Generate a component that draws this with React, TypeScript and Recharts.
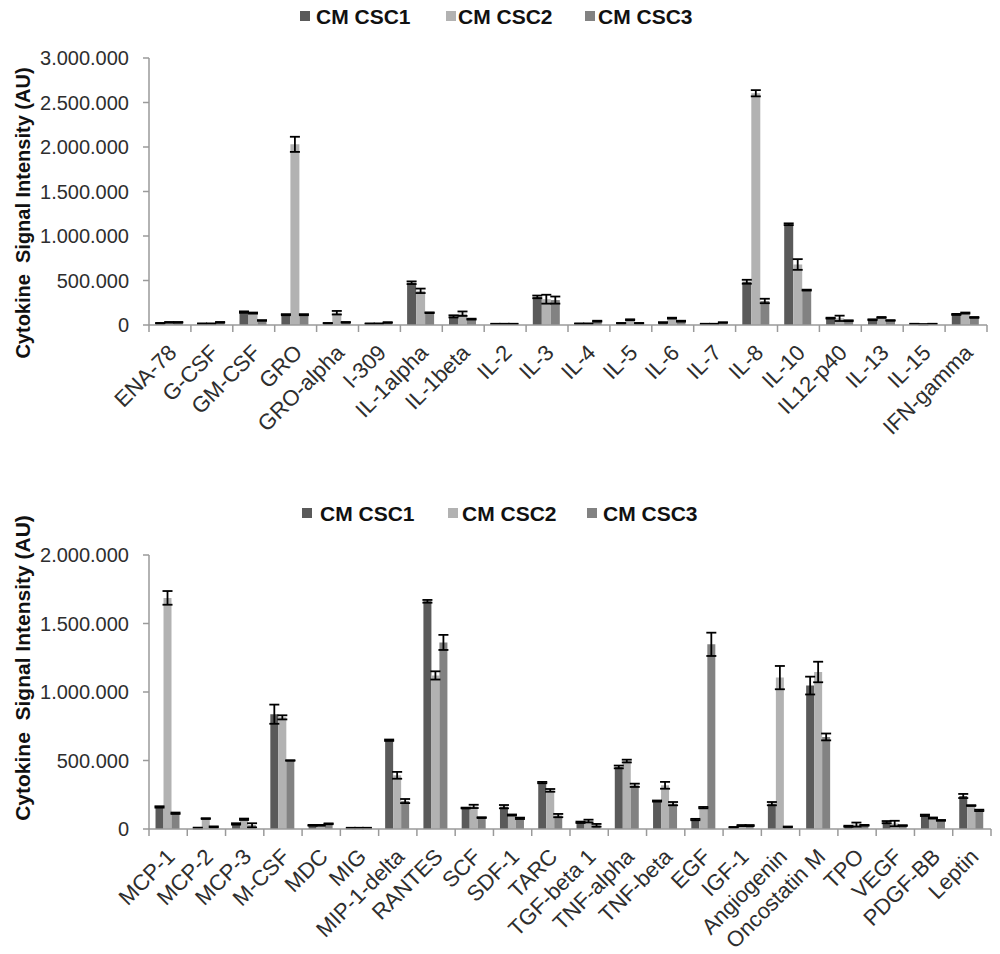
import React from 'react';
import { BarChart, Bar, XAxis, YAxis, ErrorBar, Legend } from 'recharts';

// ---------- Data: top panel ----------
const topCategories = ['ENA-78', 'G-CSF', 'GM-CSF', 'GRO', 'GRO-alpha', 'I-309', 'IL-1alpha', 'IL-1beta', 'IL-2', 'IL-3', 'IL-4', 'IL-5', 'IL-6', 'IL-7', 'IL-8', 'IL-10', 'IL12-p40', 'IL-13', 'IL-15', 'IFN-gamma'];
const topCSC1 = [20000, 15000, 145000, 116000, 20000, 15000, 475000, 97000, 12000, 316000, 15000, 20000, 28000, 12000, 486000, 1132000, 77000, 59000, 12000, 119000];
const topCSC2 = [30000, 15000, 134000, 2030000, 138000, 15000, 384000, 127000, 12000, 290000, 15000, 59000, 77000, 12000, 2604000, 680000, 75000, 85000, 8000, 134000];
const topCSC3 = [30000, 30000, 51000, 116000, 30000, 28000, 138000, 66000, 12000, 280000, 43000, 20000, 43000, 28000, 270000, 392000, 48000, 51000, 12000, 85000];
const topErr1 = [3000, 3000, 8000, 6000, 3000, 3000, 15000, 12000, 2000, 15000, 3000, 3000, 4000, 2000, 22000, 10000, 5000, 5000, 2000, 6000];
const topErr2 = [4000, 3000, 6000, 85000, 20000, 3000, 25000, 25000, 2000, 50000, 3000, 5000, 5000, 2000, 35000, 60000, 30000, 5000, 2000, 6000];
const topErr3 = [4000, 4000, 4000, 6000, 4000, 4000, 4000, 5000, 2000, 40000, 5000, 3000, 5000, 3000, 25000, 5000, 5000, 4000, 2000, 5000];
const topTicks = [0, 500000, 1000000, 1500000, 2000000, 2500000, 3000000];

// ---------- Data: bottom panel ----------
const bottomCategories = ['MCP-1', 'MCP-2', 'MCP-3', 'M-CSF', 'MDC', 'MIG', 'MIP-1-delta', 'RANTES', 'SCF', 'SDF-1', 'TARC', 'TGF-beta 1', 'TNF-alpha', 'TNF-beta', 'EGF', 'IGF-1', 'Angiogenin', 'Oncostatin M', 'TPO', 'VEGF', 'PDGF-BB', 'Leptin'];
const bottomCSC1 = [161000, 7000, 37000, 838000, 27000, 7000, 648000, 1662000, 153000, 163000, 339000, 49000, 453000, 204000, 69000, 12000, 185000, 1047000, 20000, 50000, 100000, 241000];
const bottomCSC2 = [1687000, 76000, 71000, 815000, 27000, 7000, 392000, 1121000, 165000, 102000, 282000, 58000, 496000, 319000, 156000, 25000, 1105000, 1146000, 32000, 40000, 80000, 171000];
const bottomCSC3 = [115000, 15000, 27000, 500000, 38000, 7000, 204000, 1362000, 83000, 78000, 98000, 27000, 319000, 185000, 1348000, 25000, 15000, 672000, 27000, 25000, 63000, 136000];
const bottomErr1 = [5000, 3000, 5000, 70000, 3000, 2000, 5000, 10000, 3000, 12000, 5000, 5000, 10000, 4000, 5000, 3000, 12000, 65000, 4000, 8000, 5000, 15000];
const bottomErr2 = [50000, 3000, 5000, 15000, 3000, 2000, 25000, 30000, 12000, 4000, 10000, 10000, 10000, 25000, 5000, 4000, 85000, 75000, 15000, 20000, 4000, 3000];
const bottomErr3 = [5000, 4000, 15000, 2000, 3000, 2000, 15000, 55000, 3000, 5000, 12000, 10000, 12000, 12000, 85000, 4000, 3000, 25000, 3000, 3000, 3000, 5000];
const bottomTicks = [0, 500000, 1000000, 1500000, 2000000];

const seriesNames = ['CM CSC1', 'CM CSC2', 'CM CSC3'];
const seriesColors = ['#5a5a5a', '#b2b2b2', '#828282'];

const FONT = '"Liberation Sans", Arial, sans-serif';
const AXIS = '#9a9a9a';
const TEXT = '#2e2e2e';

function buildRows(cats: string[], a: number[], b: number[], c: number[], ea: number[], eb: number[], ec: number[]) {
  return cats.map((name, i) => ({ name, s1: a[i], s2: b[i], s3: c[i], e1: ea[i], e2: eb[i], e3: ec[i] }));
}

const topData = buildRows(topCategories, topCSC1, topCSC2, topCSC3, topErr1, topErr2, topErr3);
const bottomData = buildRows(bottomCategories, bottomCSC1, bottomCSC2, bottomCSC3, bottomErr1, bottomErr2, bottomErr3);

const fmt = (v: number) => String(v).replace(/\B(?=(\d{3})+(?!\d))/g, '.');

function XTick(props: any) {
  const { x, y, payload, index, visibleTicksCount, step } = props;
  const half = payload && typeof payload.offset === 'number' && payload.offset > 0 ? payload.offset : step / 2;
  const tx = x + 8;
  const ty = y + 29;
  return (
    <g>
      <line x1={x - half} x2={x - half} y1={y} y2={y + 7} stroke={AXIS} strokeWidth={1.5} />
      {index === visibleTicksCount - 1 && (
        <line x1={x + half} x2={x + half} y1={y} y2={y + 7} stroke={AXIS} strokeWidth={1.5} />
      )}
      <text x={tx} y={ty} transform={`rotate(-45 ${tx} ${ty})`} textAnchor="end" fontFamily={FONT} fill={TEXT} style={{ fontSize: '22px' }}>
        {payload.value}
      </text>
    </g>
  );
}

function YTick(props: any) {
  const { x, y, payload } = props;
  return (
    <text x={x} y={y} dy={7} textAnchor="end" fontFamily={FONT} fill={TEXT} style={{ fontSize: '20px' }}>
      {fmt(payload.value)}
    </text>
  );
}

function YLabel(props: any) {
  const { centerY, fsize } = props;
  return (
    <text x={30} y={centerY} transform={`rotate(-90 30 ${centerY})`} textAnchor="middle" fontWeight="bold" fontFamily={FONT} fill="#111" style={{ whiteSpace: 'pre', fontSize: `${fsize}px` }}>
      Cytokine  Signal Intensity (AU)
    </text>
  );
}

function makeLegend(xs: number[][]) {
  return (props: any) => {
    const payload = props.payload || [];
    return (
      <svg width={1000} height={30} style={{ display: 'block' }}>
        {seriesNames.map((n, i) => {
          const p = payload.find((q: any) => q.value === n);
          return (
            <g key={n}>
              <rect x={xs[i][0]} y={11} width={10} height={10} fill={p ? p.color : seriesColors[i]} />
              <text x={xs[i][1]} y={24} fontWeight="bold" fontFamily={FONT} fill="#111" style={{ fontSize: '21px' }}>{n}</text>
            </g>
          );
        })}
      </svg>
    );
  };
}

function Panel(props: any) {
  const { data, ticks, max, height, xAxisHeight, rightMargin, legendXs, labelCenter, labelSize, gap } = props;
  const plotWidth = 1000 - 149 - rightMargin;
  const step = plotWidth / data.length;
  return (
    <BarChart width={1000} height={height} data={data} margin={{ top: 58, right: rightMargin, bottom: 0, left: 0 }} barCategoryGap={gap} barGap={0}>
      <XAxis dataKey="name" interval={0} height={xAxisHeight} tickLine={false} tickSize={0} tickMargin={0} axisLine={{ stroke: AXIS, strokeWidth: 1.5 }} tick={<XTick step={step} />} />
      <YAxis
        width={149}
        domain={[0, max]}
        ticks={ticks}
        interval={0}
        tickFormatter={fmt}
        tickSize={6}
        tickMargin={14}
        axisLine={{ stroke: AXIS, strokeWidth: 1.5 }}
        tickLine={{ stroke: AXIS, strokeWidth: 1.5 }}
        tick={<YTick />}
        label={<YLabel centerY={labelCenter} fsize={labelSize} />}
      />
      <Legend verticalAlign="middle" align="center" layout="horizontal" wrapperStyle={{ top: 0, left: 0, width: 1000 }} content={makeLegend(legendXs)} />
      {['s1', 's2', 's3'].map((k, i) => (
        <Bar key={k} dataKey={k} name={seriesNames[i]} fill={seriesColors[i]} isAnimationActive={false}>
          <ErrorBar dataKey={`e${i + 1}`} width={5} stroke="#000" strokeWidth={1.8} direction="y" isAnimationActive={false} />
        </Bar>
      ))}
    </BarChart>
  );
}

export default function App() {
  return (
    <div style={{ position: 'absolute', left: 0, top: 0, width: 1000, height: 954, background: '#fff', fontFamily: FONT }}>
      <div style={{ position: 'absolute', left: 0, top: 0 }}>
        <Panel
          data={topData}
          ticks={topTicks}
          max={3000000}
          height={497}
          xAxisHeight={172}
          rightMargin={13}
          legendXs={[[300, 316], [446, 458], [585, 598]]}
          labelCenter={213}
          labelSize={20}
          gap="16%"
        />
      </div>
      <div style={{ position: 'absolute', left: 0, top: 497 }}>
        <Panel
          data={bottomData}
          ticks={bottomTicks}
          max={2000000}
          height={457}
          xAxisHeight={125}
          rightMargin={9}
          legendXs={[[302, 320], [448, 462], [587, 603]]}
          labelCenter={171}
          labelSize={21}
          gap="17%"
        />
      </div>
    </div>
  );
}
